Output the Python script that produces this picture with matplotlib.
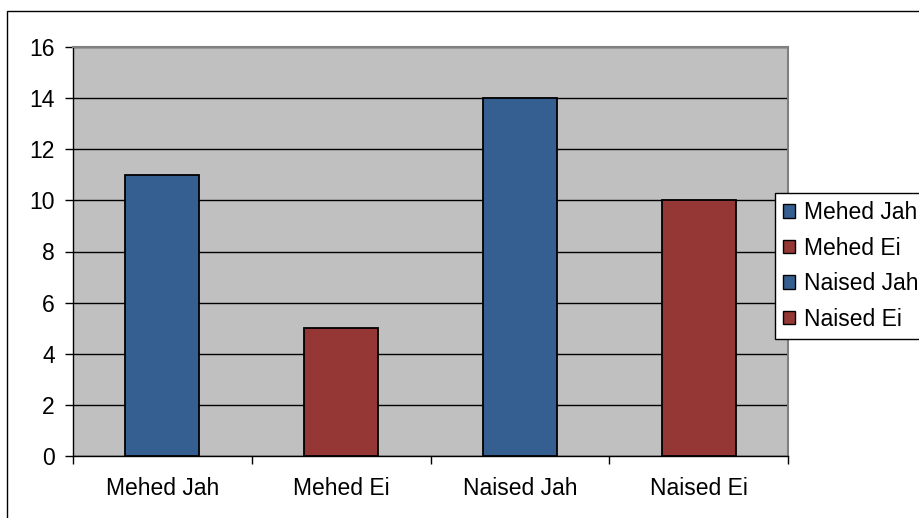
import matplotlib.pyplot as plt
from matplotlib.patches import Patch, Rectangle

categories = ["Mehed Jah", "Mehed Ei", "Naised Jah", "Naised Ei"]
values = [11, 5, 14, 10]
bar_colors = ["#365F91", "#953735", "#365F91", "#953735"]
yticks = [0, 2, 4, 6, 8, 10, 12, 14, 16]

plt.rcParams["font.family"] = ["Liberation Sans", "DejaVu Sans"]

W, H = 920, 518
fig = plt.figure(figsize=(W / 100, H / 100), dpi=100)

# chart area border (only left and top edges fall inside the image)
fig.patches.append(Rectangle((7 / W, -0.1), 1.2, 1 - 11 / H + 0.1,
                             transform=fig.transFigure, fill=False,
                             edgecolor="black", linewidth=1.0))

ax = fig.add_axes([73 / W, 1 - 456 / H, 715 / W, 409 / H])
ax.set_facecolor("#C0C0C0")
x = range(len(categories))
ax.bar(x, values, width=0.415, color=bar_colors, edgecolor="black",
       linewidth=1.3, zorder=3)

ax.set_xlim(-0.5, len(categories) - 0.5)
ax.set_ylim(0, 16)
ax.set_yticks(yticks)
ax.yaxis.grid(True, color="black", linewidth=1.0, zorder=1)
ax.set_axisbelow(True)

ax.set_xticks([i - 0.5 for i in range(len(categories) + 1)], minor=False)
ax.set_xticklabels([])
ax.set_xticks(list(x), minor=True)
ax.set_xticklabels(categories, minor=True)
ax.tick_params(axis="x", which="minor", length=0, pad=15, labelsize=16.5)
ax.tick_params(axis="x", which="major", length=6, direction="out", width=1)
ax.tick_params(axis="y", length=6, direction="out", width=1, pad=7, labelsize=16.5)

for side in ["top", "right"]:
    ax.spines[side].set_color("#808080")
    ax.spines[side].set_linewidth(1.5)
for side in ["left", "bottom"]:
    ax.spines[side].set_color("black")
    ax.spines[side].set_linewidth(1.0)

handles = [Patch(facecolor=c, edgecolor="black", linewidth=1.0) for c in bar_colors]
leg = fig.legend(handles, categories, loc="upper left",
                 bbox_to_anchor=(775 / W, 1 - 193 / H),
                 fontsize=16.5, frameon=True, fancybox=False,
                 edgecolor="black", framealpha=1, borderpad=0.35,
                 handlelength=0.52, handleheight=0.52, handletextpad=0.4,
                 labelspacing=0.55, borderaxespad=0)
leg.get_frame().set_linewidth(1.0)

fig.savefig("out.png", dpi=100)
